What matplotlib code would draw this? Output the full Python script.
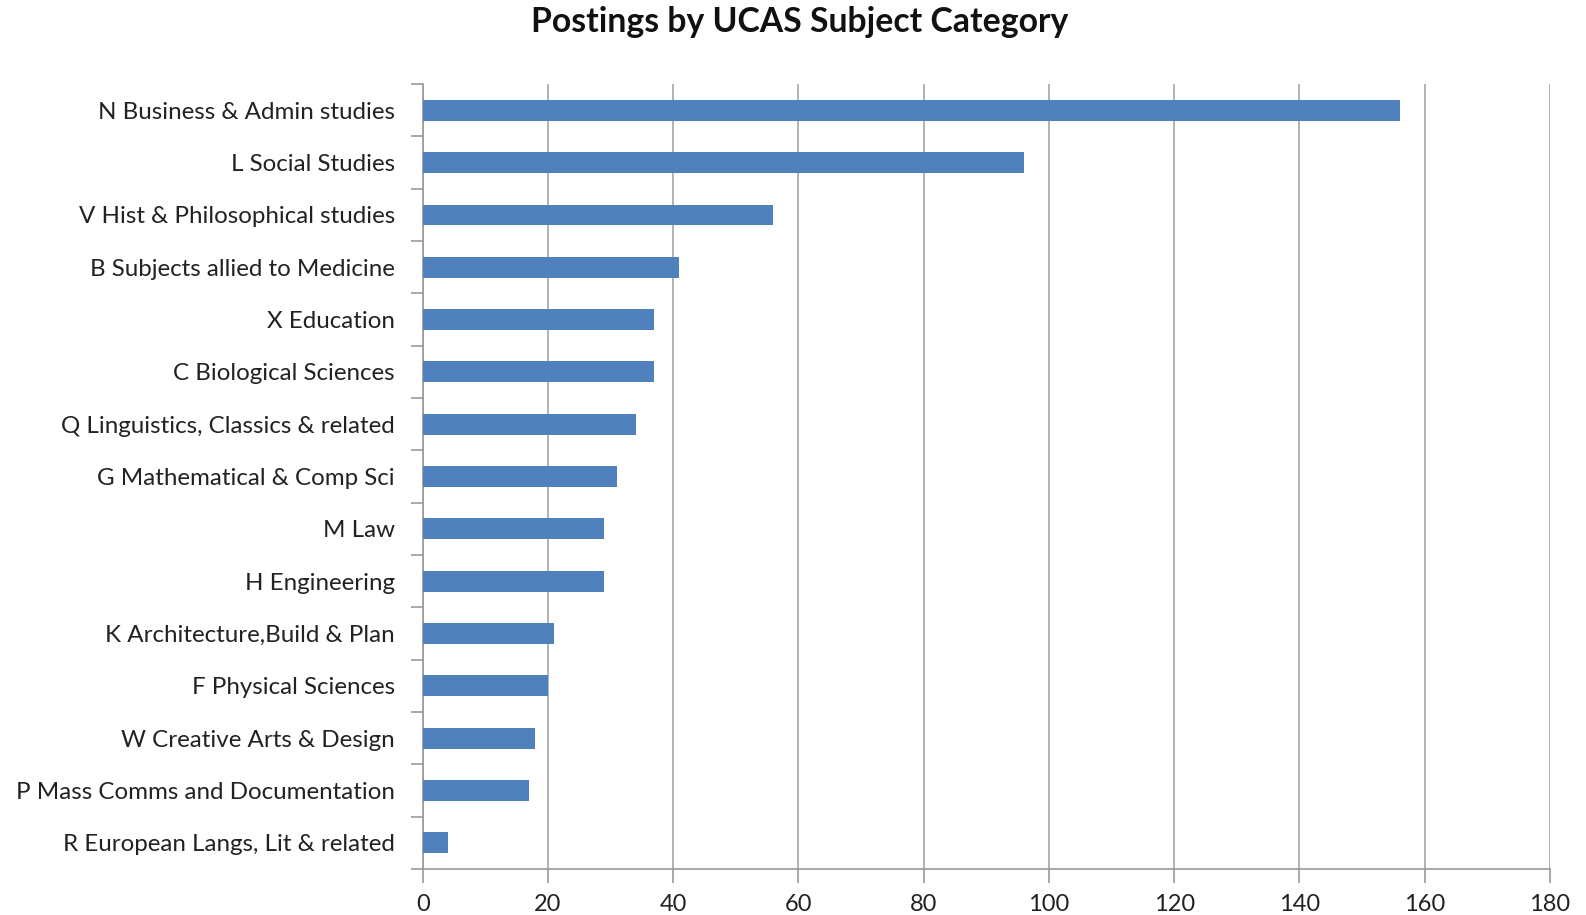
import matplotlib
matplotlib.use("Agg")
import matplotlib.pyplot as plt
import numpy as np

categories = [
    "N Business & Admin studies",
    "L Social Studies",
    "V Hist & Philosophical studies",
    "B Subjects allied to Medicine",
    "X Education",
    "C Biological Sciences",
    "Q Linguistics, Classics & related",
    "G Mathematical & Comp Sci",
    "M Law",
    "H Engineering",
    "K Architecture,Build & Plan",
    "F Physical Sciences",
    "W Creative Arts & Design",
    "P Mass Comms and Documentation",
    "R European Langs, Lit & related",
]
postings = [156, 96, 56, 41, 37, 37, 34, 31, 29, 29, 21, 20, 18, 17, 4]
xticks = [0, 20, 40, 60, 80, 100, 120, 140, 160, 180]

plt.rcParams['font.family'] = ['Lato', 'DejaVu Sans']

fig = plt.figure(figsize=(15.86, 9.15), dpi=100)
ax = fig.add_axes([0.2665, 0.0503, 0.9773 - 0.2665, 0.908 - 0.0503])

y = np.arange(len(categories))
ax.barh(y, postings, height=0.4, color="#4F81BD", zorder=3)

ax.set_xlim(0, 180)
ax.set_ylim(len(categories) - 0.5, -0.5)
ax.set_xticks(xticks)
ax.set_xticklabels([str(t) for t in xticks], fontsize=17, color="#222222")
ax.set_yticks(y)
ax.set_yticklabels(categories, fontsize=17.4, color="#222222")
ax.set_yticks(np.arange(-0.5, len(categories), 1), minor=True)

ax.tick_params(axis='y', which='major', length=0, pad=20)
ax.tick_params(axis='y', which='minor', length=9, color="#999999", width=1.2)
ax.tick_params(axis='x', which='major', length=10, color="#999999", width=1.2, pad=8)

ax.grid(axis='x', color="#a6a6a6", linewidth=1.2, zorder=0)
for s in ['top', 'right']:
    ax.spines[s].set_visible(False)
for s in ['left', 'bottom']:
    ax.spines[s].set_color("#999999")
    ax.spines[s].set_linewidth(1.2)

fig.text(0.504, 0.976, "Postings by UCAS Subject Category", ha='center', va='center',
         fontsize=24.3, fontweight='bold', color="#111111")

fig.savefig("out.png", dpi=100)
